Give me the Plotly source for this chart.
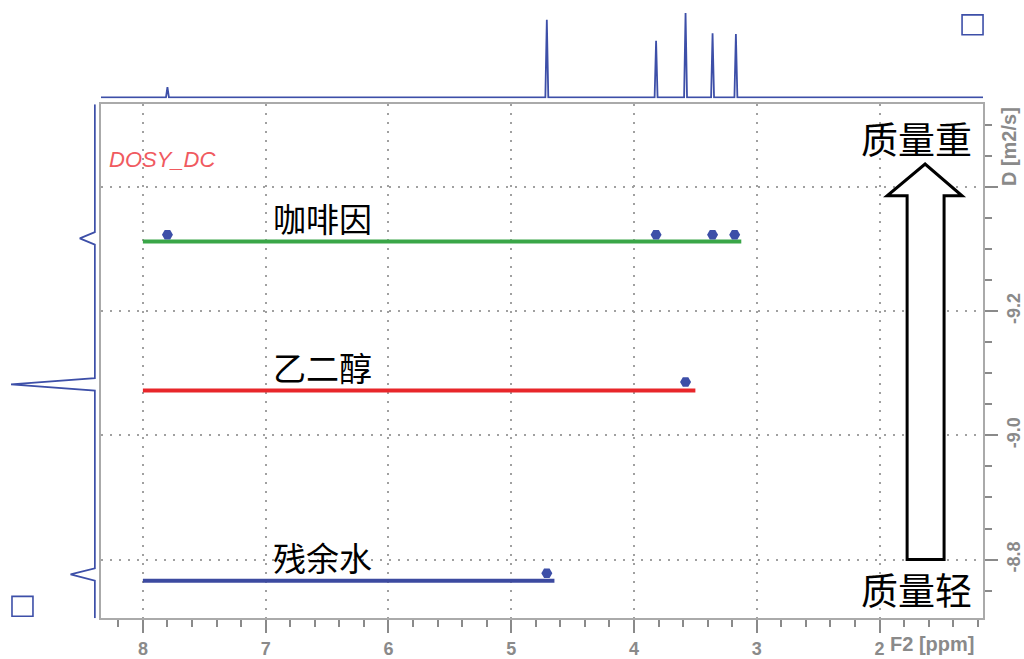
import plotly.graph_objects as go

W, H = 1024, 659

# 1H projection: peak positions (ppm) and relative heights
proj_ppm = [7.80, 4.71, 3.82, 3.58, 3.36, 3.17]
proj_int = [0.12, 0.92, 0.67, 1.00, 0.76, 0.75]

# DOSY cross peaks (ppm, log10 D)
cafe_ppm = [7.80, 3.82, 3.36, 3.18]
cafe_logd = [-9.323, -9.323, -9.323, -9.323]
eg_ppm = [3.58]
eg_logd = [-9.086]
water_ppm = [4.71]
water_logd = [-8.778]

# fitted diffusion lines: name, start ppm, end ppm, log10 D, colour
compounds = ["咖啡因", "乙二醇", "残余水"]
line_start = [8.0, 8.0, 8.0]
line_end = [3.126, 3.50, 4.648]
line_logd = [-9.312, -9.072, -8.766]
line_colors = ["#3aa648", "#e8262a", "#3c4aa0"]

# diffusion projection: log10 D of each component and relative intensity
dproj_logd = [-9.317, -9.082, -8.776]
dproj_int = [0.18, 1.00, 0.29]

# axis ticks
x_ticks = [8, 7, 6, 5, 4, 3, 2]
y_ticks = [-9.4, -9.2, -9.0, -8.8]
y_ticktext = ["", "-9.2", "-9.0", "-8.8"]

X_RANGE = [8.342, 1.157]
Y_RANGE = [-8.7056, -9.5328]
BLUE = "#3d4fa8"
GREY = "#8a8a8a"


def px(x):
    return x / W


def py(y):
    return 1 - y / H


def stick_trace(pos, amp, lo, hi, half=0.012):
    """Baseline with a narrow spike at every peak, ordered from lo to hi."""
    pairs = sorted(zip(pos, amp), reverse=(lo > hi))
    a, b = [lo], [0]
    for p, h in pairs:
        s = 1 if lo < hi else -1
        a += [p - s * half, p, p + s * half]
        b += [0, h, 0]
    a.append(hi)
    b.append(0)
    return a, b


fig = go.Figure()

# horizontal diffusion lines
for name, x0, x1, d, c in zip(compounds, line_start, line_end, line_logd, line_colors):
    fig.add_trace(go.Scatter(x=[x0, x1], y=[d, d], mode="lines",
                             line=dict(color=c, width=4), hoverinfo="skip",
                             xaxis="x", yaxis="y"))

# cross peaks
for xs, ys in [(cafe_ppm, cafe_logd), (eg_ppm, eg_logd), (water_ppm, water_logd)]:
    fig.add_trace(go.Scatter(x=xs, y=ys, mode="markers",
                             marker=dict(symbol="hexagon2", size=11, color=BLUE,
                                         line=dict(width=0)),
                             xaxis="x", yaxis="y"))

# 1D spectrum on top
sx, sy = stick_trace(proj_ppm, proj_int, X_RANGE[0], X_RANGE[1])
fig.add_trace(go.Scatter(x=sx, y=sy, mode="lines", line=dict(color=BLUE, width=1.8),
                         xaxis="x2", yaxis="y2"))

# diffusion projection on the left
dy, dx = stick_trace(dproj_logd, dproj_int, Y_RANGE[1], Y_RANGE[0], half=0.01)
fig.add_trace(go.Scatter(x=dx, y=dy, mode="lines", line=dict(color=BLUE, width=1.8),
                         xaxis="x3", yaxis="y3"))

axis_font = dict(family="Liberation Sans", size=18, color=GREY, weight="bold")
grid = dict(showgrid=True, gridcolor="#a0a0a0", griddash="2px,7px", gridwidth=1.5)

fig.update_layout(
    width=W, height=H,
    margin=dict(l=0, r=0, t=0, b=0),
    paper_bgcolor="white", plot_bgcolor="white",
    showlegend=False,
    xaxis=dict(domain=[px(101), px(984)], range=X_RANGE,
               tickvals=x_ticks, ticktext=[str(v) for v in x_ticks],
               ticks="outside", ticklen=13, tickwidth=1.5, tickcolor=GREY,
               minor=dict(dtick=0.2, ticks="outside", ticklen=7, tickwidth=1.5,
                          tickcolor=GREY, showgrid=False),
               showline=True, linecolor="#aaaaaa", linewidth=2, mirror=True,
               tickfont=axis_font, zeroline=False, anchor="y", **grid),
    yaxis=dict(domain=[py(622), py(105)], range=Y_RANGE, side="right",
               tickvals=y_ticks, ticktext=y_ticktext, tickangle=-90,
               ticks="outside", ticklen=13, tickwidth=1.5, tickcolor=GREY,
               minor=dict(dtick=0.05, ticks="outside", ticklen=7, tickwidth=1.5,
                          tickcolor=GREY, showgrid=False),
               showline=True, linecolor="#aaaaaa", linewidth=2, mirror=True,
               tickfont=axis_font, zeroline=False, anchor="x", **grid),
    xaxis2=dict(domain=[px(101), px(984)], range=X_RANGE, visible=False, anchor="y2"),
    yaxis2=dict(domain=[py(99), py(13)], range=[-0.012, 1.0], visible=False, anchor="x2"),
    xaxis3=dict(domain=[px(11), px(96)], range=[1.0, -0.012], visible=False, anchor="y3"),
    yaxis3=dict(domain=[py(622), py(105)], range=Y_RANGE, visible=False, anchor="x3"),
)

ann = []
# compound labels above their lines
for name, d in zip(compounds, line_logd):
    ann.append(dict(x=6.54, y=d, xref="x", yref="y", text=name, showarrow=False,
                    xanchor="center", yanchor="bottom", yshift=-2,
                    font=dict(family="Noto Sans CJK SC", size=33, color="black")))
ann += [
    dict(x=px(107), y=py(160), xref="paper", yref="paper", text="<i>DOSY_DC</i>",
         showarrow=False, xanchor="left", yanchor="middle",
         font=dict(family="Liberation Sans", size=22, color="#f05a5f")),
    dict(x=px(917), y=py(139), xref="paper", yref="paper", text="质量重",
         showarrow=False, xanchor="center", yanchor="middle",
         font=dict(family="Noto Sans CJK SC", size=37, color="black")),
    dict(x=px(917), y=py(593), xref="paper", yref="paper", text="质量轻",
         showarrow=False, xanchor="center", yanchor="middle",
         font=dict(family="Noto Sans CJK SC", size=37, color="black")),
    dict(x=px(889), y=py(648), xref="paper", yref="paper", text="F2 [ppm]",
         showarrow=False, xanchor="left", yanchor="middle",
         font=dict(family="Liberation Sans", size=20, color=GREY, weight="bold")),
    dict(x=px(1010), y=py(148), xref="paper", yref="paper", text="D [m2/s]",
         showarrow=False, xanchor="center", yanchor="middle", textangle=-90,
         font=dict(family="Liberation Sans", size=20, color=GREY, weight="bold")),
]
fig.update_layout(annotations=ann)

# hollow arrow pointing towards heavier species
pts = [(908, 563), (908, 197), (888, 197), (926, 165), (963, 197), (945, 197), (945, 563)]
path = "M " + " L ".join(f"{px(a):.5f},{py(b):.5f}" for a, b in pts) + " Z"
shapes = [
    dict(type="path", path=path, xref="paper", yref="paper",
         line=dict(color="black", width=3), fillcolor="white"),
    dict(type="rect", xref="paper", yref="paper", x0=px(963), x1=px(984),
         y0=py(35), y1=py(15), line=dict(color=BLUE, width=1.6)),
    dict(type="rect", xref="paper", yref="paper", x0=px(12), x1=px(33),
         y0=py(620), y1=py(600), line=dict(color=BLUE, width=1.6)),
]
fig.update_layout(shapes=shapes)

fig.write_html("out.html")
